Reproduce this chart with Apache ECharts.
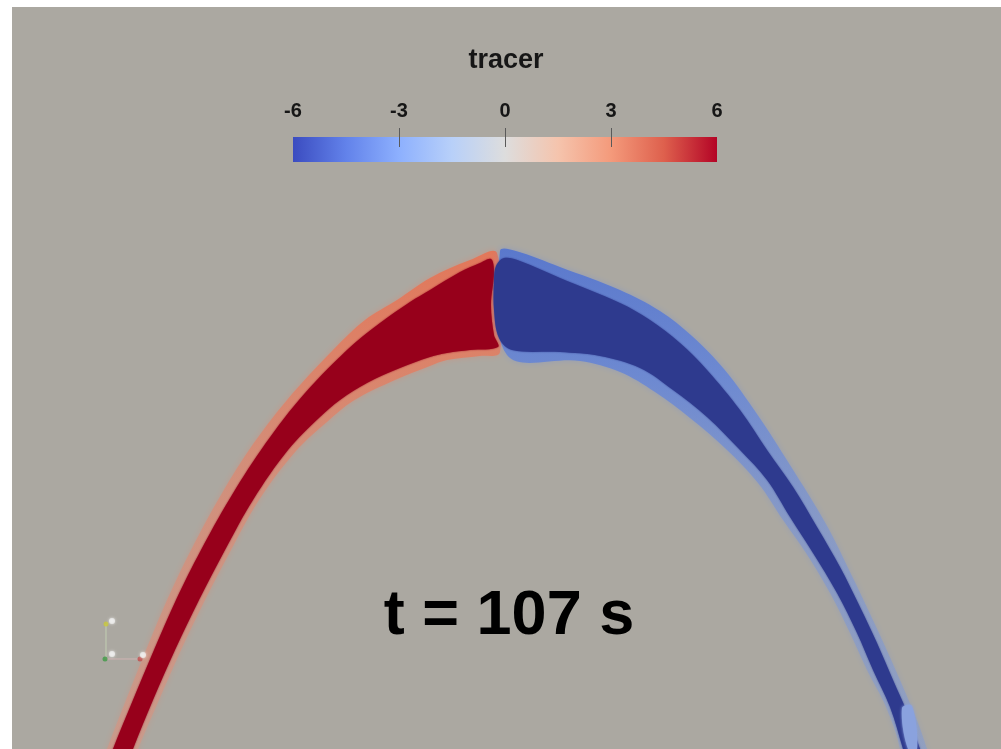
<!DOCTYPE html>
<html>
<head>
<meta charset="utf-8">
<title>tracer</title>
<script src="https://cdn.jsdelivr.net/npm/echarts@6/dist/echarts.min.js"></script>
<style>
  html, body { margin: 0; padding: 0; background: #ffffff; }
  #chart { width: 1001px; height: 749px; }
</style>
</head>
<body>
<div id="chart"></div>
<script>
// ---- colour map (Cool to Warm) ----
const cmapValues = [-6, -4.5, -3, -1.5, 0, 1.5, 3, 4.5, 6];
const cmapColors = ['#3b4cc0', '#6282ea', '#8db0fe', '#b8d0f9', '#dddddd',
                    '#f5c4ad', '#f49a7b', '#de604d', '#b40426'];
const tickValues = [-3, 0, 3];
const labelValues = [-6, -3, 0, 3, 6];

// ---- tracer field outlines, [x, y] in view units ----
// positive tracer (left limb), saturated core
const redCoreOuter = [[110, 760], [113, 749], [133, 700], [154, 650], [176, 600],
                      [201, 550], [229, 500], [261, 450], [299, 400], [347, 350],
                      [380, 323], [410, 302], [430, 290], [460, 272], [480, 263], [491, 259]];
const redCoreJunction = [[494, 272], [491, 305], [494, 335]];
const redCoreInner = [[498, 347], [470, 350], [447, 353], [430, 357], [400, 368],
                      [367, 383], [340, 400], [320, 417], [288, 450], [253, 500],
                      [225, 550], [199, 600], [175, 650], [153, 700], [133, 749], [130, 760]];
// positive tracer, diffuse edge
const redHaloOuter = [[104, 760], [107, 749], [126, 700], [146, 650], [167, 600],
                      [191, 550], [218, 500], [249, 450], [287, 400], [333, 350],
                      [365, 320], [397, 300], [430, 278], [470, 260], [497, 253]];
const redHaloInner = [[500, 352], [480, 356], [447, 360], [430, 366], [395, 380],
                      [353, 401], [327, 422], [296, 451], [259, 500], [231, 550],
                      [205, 600], [181, 650], [159, 700], [138, 749], [135, 760]];

// negative tracer (right limb), saturated core
const blueCoreOuter = [[496, 266], [504, 258], [520, 261], [560, 278], [620, 303],
                       [650, 320], [680, 343], [707, 370], [740, 410], [767, 450],
                       [793, 487], [817, 527], [840, 567], [860, 607], [877, 643],
                       [893, 680], [907, 712], [920, 749], [923, 760]];
const blueCoreInner = [[906, 760], [903, 749], [890, 707], [873, 670], [857, 633],
                       [837, 593], [813, 553], [790, 517], [767, 480], [740, 450],
                       [707, 417], [673, 390], [640, 368], [600, 356], [560, 352], [512, 350]];
const blueCoreJunction = [[499, 338], [494, 310], [494, 280]];
// negative tracer, diffuse edge
const blueHaloOuter = [[500, 251], [516, 251], [560, 267], [620, 290], [660, 311],
                       [692, 336], [724, 369], [757, 414], [790, 465], [826, 524],
                       [853, 578], [879, 633], [900, 680], [918, 723], [927, 749], [930, 760]];
const blueHaloInner = [[897, 760], [900, 749], [886, 707], [867, 670], [850, 633],
                       [830, 593], [806, 553], [783, 520], [758, 483], [727, 450],
                       [690, 418], [655, 392], [620, 372], [580, 361], [507, 355]];
const blueTip = [[902, 708], [912, 706], [917, 749], [908, 749]];

// orientation axes glyph
const triadLineY = [[106, 624], [106, 659]];
const triadLineX = [[106, 659], [141, 659]];
const triadDots = [[106, 624], [105, 659], [140, 659]];
const triadDotColors = ['#c9c83a', '#3f9a45', '#c24848'];
const triadHeads = [[112, 621], [112, 654], [143, 655]];

const labelText = 'tracer';
const timeText = 't = 107 s';

// ---------------------------------------------------------------
const chart = echarts.init(document.getElementById('chart'), null, { renderer: 'canvas' });

function polygonSeries(points, fill, blurColor, blur, z) {
  return {
    type: 'custom',
    coordinateSystem: 'cartesian2d',
    xAxisIndex: 0, yAxisIndex: 0,
    z: z, silent: true, clip: false,
    data: [[500, 400]],
    renderItem: function (params, api) {
      return {
        type: 'polygon',
        shape: { points: points.map(p => api.coord(p)), smooth: 0.35 },
        style: { fill: fill, shadowBlur: blur, shadowColor: blurColor }
      };
    }
  };
}

function vGrad(stops) {
  return new echarts.graphic.LinearGradient(0, 0, 0, 1,
    stops.map(s => ({ offset: s[0], color: s[1] })));
}

const redCore = redCoreOuter.concat(redCoreJunction, redCoreInner);
const redHalo = redHaloOuter.concat(redHaloInner);
const blueCore = blueCoreOuter.concat(blueCoreInner, blueCoreJunction);
const blueHalo = blueHaloOuter.concat(blueHaloInner);

const colorbarStops = cmapValues.map((v, i) => ({
  offset: (v - cmapValues[0]) / (cmapValues[cmapValues.length - 1] - cmapValues[0]),
  color: cmapColors[i]
}));

const option = {
  backgroundColor: '#ffffff',
  animation: false,
  grid: [
    { left: 12, top: 7, right: 0, bottom: 0, show: true, backgroundColor: '#aba8a1', borderWidth: 0 },
    { left: 293, top: 137, width: 424, height: 25, show: false }
  ],
  xAxis: [
    { gridIndex: 0, type: 'value', min: 12, max: 1001, show: false },
    {
      gridIndex: 1, type: 'value', min: -6, max: 6, position: 'top',
      axisLine: { show: false },
      splitLine: { show: false },
      axisTick: { show: false },
      axisLabel: { show: true, customValues: labelValues, margin: 16,
                   fontFamily: 'Liberation Sans, Arial, sans-serif', fontSize: 20,
                   fontWeight: 'bold', color: '#161616' }
    }
  ],
  yAxis: [
    { gridIndex: 0, type: 'value', min: 7, max: 749, inverse: true, show: false },
    { gridIndex: 1, type: 'value', min: 0, max: 1, show: false }
  ],
  series: [
    polygonSeries(redHalo,
      vGrad([[0, '#e2775a'], [0.2, '#dc8268'], [0.45, 'rgba(215,140,118,0.8)'],
             [1, 'rgba(212,150,132,0.6)']]),
      'rgba(214,140,120,0.6)', 6, 1),
    polygonSeries(blueHalo,
      vGrad([[0, '#5a78cc'], [0.25, 'rgba(105,135,212,0.9)'], [0.55, 'rgba(125,150,210,0.65)'],
             [1, 'rgba(130,155,212,0.5)']]),
      'rgba(120,145,210,0.5)', 6, 1),
    polygonSeries(redCore, '#97001b', 'rgba(151,0,27,0.8)', 2, 2),
    polygonSeries(blueCore, '#2e3a8e', 'rgba(46,58,142,0.8)', 2, 2),
    polygonSeries(blueTip, '#8aa2de', '#8aa2de', 3, 3),
    {
      type: 'line', xAxisIndex: 0, yAxisIndex: 0, data: triadLineY, symbol: 'none',
      lineStyle: { color: 'rgba(205,225,185,0.7)', width: 1 }, silent: true, z: 4
    },
    {
      type: 'line', xAxisIndex: 0, yAxisIndex: 0, data: triadLineX, symbol: 'none',
      lineStyle: { color: 'rgba(225,185,185,0.7)', width: 1 }, silent: true, z: 4
    },
    {
      type: 'scatter', xAxisIndex: 0, yAxisIndex: 0, symbolSize: 5, silent: true, z: 5,
      data: triadDots.map((p, i) => ({ value: p, itemStyle: { color: triadDotColors[i] } }))
    },
    {
      type: 'scatter', xAxisIndex: 0, yAxisIndex: 0, symbolSize: 6, silent: true, z: 5,
      itemStyle: { color: 'rgba(245,245,245,0.85)', shadowBlur: 3, shadowColor: '#ffffff' },
      data: triadHeads
    },
    {
      // colour bar
      type: 'custom', coordinateSystem: 'cartesian2d', xAxisIndex: 1, yAxisIndex: 1,
      z: 1, silent: true, data: [[0, 0]],
      renderItem: function (params, api) {
        const p0 = api.coord([cmapValues[0], 1]);
        const p1 = api.coord([cmapValues[cmapValues.length - 1], 0]);
        return {
          type: 'rect',
          shape: { x: p0[0], y: p0[1], width: p1[0] - p0[0], height: p1[1] - p0[1] },
          style: { fill: new echarts.graphic.LinearGradient(0, 0, 1, 0, colorbarStops) }
        };
      }
    },
    {
      // colour bar ticks, crossing the bar's upper edge
      type: 'custom', coordinateSystem: 'cartesian2d', xAxisIndex: 1, yAxisIndex: 1,
      z: 3, silent: true, data: tickValues.map(v => [v, 1]),
      renderItem: function (params, api) {
        const p = api.coord([api.value(0), 1]);
        const x = Math.round(p[0]) + 0.5;
        return {
          type: 'line',
          shape: { x1: x, y1: p[1] - 9, x2: x, y2: p[1] + 10 },
          style: { stroke: '#5a5a5a', lineWidth: 1 }
        };
      }
    }
  ],
  graphic: [
    {
      type: 'text', x: 506, y: 61, z: 20,
      style: { text: labelText, align: 'center', verticalAlign: 'middle',
               font: 'bold 27px "Liberation Sans", Arial, sans-serif', fill: '#161616' }
    },
    {
      type: 'text', x: 509, y: 617, z: 20,
      style: { text: timeText, align: 'center', verticalAlign: 'middle',
               font: 'bold 63px "Liberation Sans", Arial, sans-serif', fill: '#000000' }
    }
  ]
};

chart.setOption(option);
</script>
</body>
</html>
